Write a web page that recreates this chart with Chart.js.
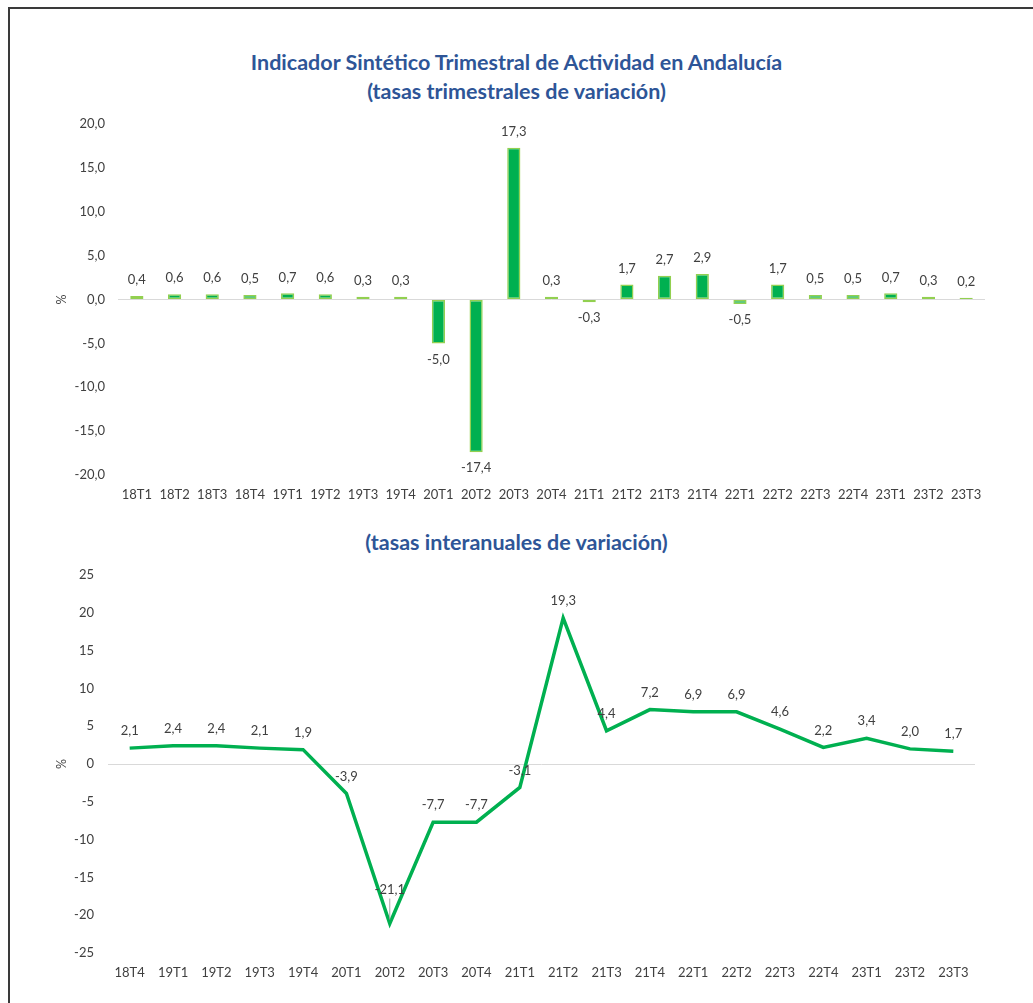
<!DOCTYPE html>
<html>
<head>
<meta charset="utf-8">
<script src="https://cdn.jsdelivr.net/npm/chart.js@4.4.0/dist/chart.umd.min.js"></script>
<style>
  html, body { margin: 0; padding: 0; background: #fff; }
  body { width: 1033px; height: 1003px; position: relative; overflow: hidden; font-family: Lato, "Open Sans", sans-serif; }
  .frame { position: absolute; left: 8px; top: 7px; width: 1100px; height: 1100px; border-left: 2px solid #3a3a3a; border-top: 2px solid #3a3a3a; }
  .title { position: absolute; left: 0; width: 1033px; text-align: center; color: #2E5597; font-weight: bold; font-size: 21.5px; line-height: 29px; }
  canvas { position: absolute; left: 0; }
</style>
</head>
<body>
<div class="frame"></div>
<div class="title" style="top:48px">Indicador Sintético Trimestral de Actividad en Andalucía<br>(tasas trimestrales de variación)</div>
<div class="title" style="top:528px">(tasas interanuales de variación)</div>
<canvas id="quarterly-chart" style="top:0"></canvas>
<canvas id="yearly-chart" style="top:510px"></canvas>
<script>
  // Tasas trimestrales
  const quarterLabels = ["18T1", "18T2", "18T3", "18T4", "19T1", "19T2", "19T3", "19T4", "20T1", "20T2", "20T3", "20T4",
    "21T1", "21T2", "21T3", "21T4", "22T1", "22T2", "22T3", "22T4", "23T1", "23T2", "23T3"];
  const quarterValues = [0.4, 0.6, 0.6, 0.5, 0.7, 0.6, 0.3, 0.3, -5.0, -17.4, 17.3, 0.3,
    -0.3, 1.7, 2.7, 2.9, -0.5, 1.7, 0.5, 0.5, 0.7, 0.3, 0.2];

  // Tasas interanuales
  const yearLabels = ["18T4", "19T1", "19T2", "19T3", "19T4", "20T1", "20T2", "20T3", "20T4", "21T1",
    "21T2", "21T3", "21T4", "22T1", "22T2", "22T3", "22T4", "23T1", "23T2", "23T3"];
  const yearValues = [2.1, 2.4, 2.4, 2.1, 1.9, -3.9, -21.1, -7.7, -7.7, -3.1,
    19.3, 4.4, 7.2, 6.9, 6.9, 4.6, 2.2, 3.4, 2.0, 1.7];

  const GREEN = "#00B050";
  const TEXT = "#404040";
  const FONT = "Lato, 'Open Sans', sans-serif";

  const fmt = (v, d) => v.toFixed(d).replace(".", ",");

  // Draws value labels next to each mark
  const valueLabels = {
    id: "valueLabels",
    afterDatasetsDraw(chart) {
      const ctx = chart.ctx;
      const meta = chart.getDatasetMeta(0);
      const data = chart.data.datasets[0].data;
      const isBar = chart.config.type === "bar";
      const minVal = Math.min(...data);
      ctx.save();
      ctx.font = "13px " + FONT;
      ctx.fillStyle = TEXT;
      ctx.textAlign = "center";
      ctx.textBaseline = "middle";
      meta.data.forEach((el, i) => {
        const v = data[i];
        let y;
        if (isBar) {
          y = v >= 0 ? el.y - 16 : el.y + 16;
        } else if (v === minVal) {
          // Excel moved this one up and added a leader line
          y = el.y - 34;
          ctx.strokeStyle = "#a6a6a6";
          ctx.lineWidth = 1;
          ctx.beginPath();
          ctx.moveTo(el.x, y + 9);
          ctx.lineTo(el.x, el.y - 4);
          ctx.stroke();
        } else {
          y = el.y - 17;
        }
        ctx.fillText(fmt(v, 1), el.x, y);
      });
      ctx.restore();
    },
  };

  function yAxis(min, max, decimals, width) {
    return {
      min: min,
      max: max,
      afterFit: (scale) => { scale.width = width; },
      border: { display: false },
      grid: {
        drawTicks: false,
        color: (c) => (c.tick && c.tick.value === 0 ? "#d9d9d9" : "rgba(0,0,0,0)"),
      },
      ticks: {
        stepSize: 5,
        padding: width === 68 ? 13 : 14,
        color: TEXT,
        font: { family: FONT, size: 13 },
        callback: (v) => fmt(v, decimals),
      },
      title: {
        display: true,
        text: "%",
        color: TEXT,
        padding: { top: 4, bottom: 4 },
        font: { family: FONT, size: 12.5 },
      },
    };
  }

  const xAxis = {
    offset: true,
    afterFit: (scale) => { scale.height = 35; },
    border: { display: false },
    grid: { display: false, drawTicks: false },
    ticks: {
      padding: 12,
      maxRotation: 0,
      autoSkip: false,
      color: TEXT,
      font: { family: FONT, size: 13 },
    },
  };

  function sizeCanvas(id, h) {
    const c = document.getElementById(id);
    c.style.width = "1033px";
    c.style.height = h + "px";
    c.width = 1033;
    c.height = h;
    return c.getContext("2d");
  }

  // Bar chart, tasas trimestrales
  new Chart(sizeCanvas("quarterly-chart", 510), {
    type: "bar",
    data: {
      labels: quarterLabels,
      datasets: [{
        data: quarterValues,
        backgroundColor: GREEN,
        borderColor: "#92D050",
        borderWidth: 1.5,
        borderSkipped: false,
        categoryPercentage: 1,
        barPercentage: 0.35,
      }],
    },
    options: {
      responsive: false,
      animation: false,
      devicePixelRatio: 1,
      layout: { padding: { top: 124, right: 48, bottom: 0, left: 50 } },
      scales: { x: xAxis, y: yAxis(-20, 20, 1, 68) },
      plugins: { legend: { display: false }, tooltip: { enabled: false } },
    },
    plugins: [valueLabels],
  });

  // Line chart, tasas interanuales
  new Chart(sizeCanvas("yearly-chart", 493), {
    type: "line",
    data: {
      labels: yearLabels,
      datasets: [{
        data: yearValues,
        borderColor: GREEN,
        borderWidth: 3.5,
        pointRadius: 0,
        tension: 0,
        fill: false,
      }],
    },
    options: {
      responsive: false,
      animation: false,
      devicePixelRatio: 1,
      layout: { padding: { top: 65, right: 58, bottom: 15, left: 50 } },
      scales: { x: xAxis, y: yAxis(-25, 25, 0, 58) },
      plugins: { legend: { display: false }, tooltip: { enabled: false } },
    },
    plugins: [valueLabels],
  });
</script>
</body>
</html>
